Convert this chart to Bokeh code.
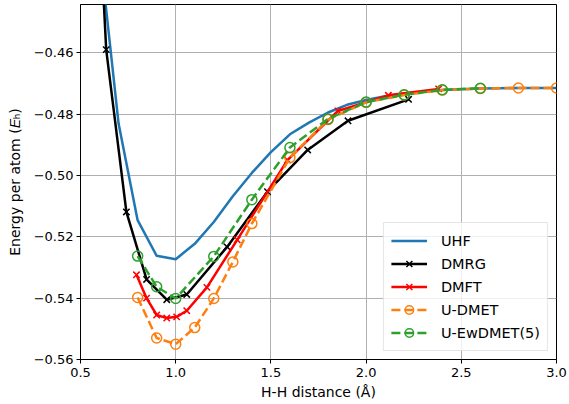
from bokeh.plotting import figure
from bokeh.models import Range1d, FixedTicker, CustomJSTickFormatter
from bokeh.embed import file_html
from bokeh.resources import INLINE

# ---- data (distance in Angstrom, energy per atom in Hartree) ----
uhf_x = [0.6, 0.7, 0.8, 0.9, 1.0, 1.1, 1.2, 1.3, 1.4, 1.5, 1.6, 1.7, 1.8, 1.9,
         2.0, 2.1, 2.2, 2.3, 2.4, 2.5, 2.6, 2.7, 2.8, 2.9, 3.0]
uhf_y = [-0.426, -0.4831, -0.5146, -0.5262, -0.5273, -0.5223, -0.5152, -0.5068,
         -0.4992, -0.4924, -0.4866, -0.4828, -0.4795, -0.4770, -0.4754, -0.4742,
         -0.4733, -0.4727, -0.4722, -0.4719, -0.4717, -0.4716, -0.4715, -0.4715,
         -0.4715]

dmrg_x = [0.529, 0.635, 0.741, 0.847, 0.953, 1.058, 1.270, 1.482, 1.693, 1.905, 2.223]
dmrg_y = [-0.33, -0.459, -0.5119, -0.5339, -0.5405, -0.5388, -0.5233, -0.5053,
          -0.4917, -0.4822, -0.4752]

dmft_x = [0.794, 0.847, 0.900, 0.953, 1.005, 1.058, 1.164, 1.323, 1.587, 1.852, 2.117, 2.381]
dmft_y = [-0.5324, -0.5400, -0.5455, -0.5465, -0.5461, -0.5441, -0.5365, -0.5210,
          -0.4950, -0.4790, -0.4739, -0.4718]

udmet_x = [0.8, 0.9, 1.0, 1.1, 1.2, 1.3, 1.4, 1.6, 1.8, 2.0, 2.2, 2.4, 2.6, 2.8, 3.0]
udmet_y = [-0.5398, -0.5530, -0.5550, -0.5496, -0.5401, -0.5282, -0.5157, -0.4942,
           -0.4818, -0.4762, -0.4738, -0.4722, -0.4717, -0.4715, -0.4715]

ew_x = [0.8, 0.9, 1.0, 1.2, 1.4, 1.6, 1.8, 2.0, 2.2, 2.4, 2.6]
ew_y = [-0.5263, -0.5363, -0.5401, -0.5264, -0.5079, -0.4909, -0.4816, -0.4761,
        -0.4737, -0.4721, -0.4716]

x_ticks = [0.5, 1.0, 1.5, 2.0, 2.5, 3.0]
y_ticks = [-0.56, -0.54, -0.52, -0.50, -0.48, -0.46]

FONT = "DejaVu Sans"

p = figure(frame_width=476, frame_height=355, output_backend="svg",
           toolbar_location=None,
           x_range=Range1d(0.5, 3.0), y_range=Range1d(-0.56, -0.4443),
           min_border_left=80, min_border_right=11, min_border_top=4,
           min_border_bottom=30)

p.background_fill_color = "white"
p.border_fill_color = "white"
p.outline_line_color = "black"
p.outline_line_width = 1
p.outline_line_alpha = 1

for g in (p.xgrid, p.ygrid):
    g.grid_line_color = "#b0b0b0"
    g.grid_line_width = 1

p.xaxis.ticker = FixedTicker(ticks=x_ticks)
p.yaxis.ticker = FixedTicker(ticks=y_ticks)
p.xaxis.formatter = CustomJSTickFormatter(code="return tick.toFixed(1);")
p.yaxis.formatter = CustomJSTickFormatter(
    code="return (tick < 0 ? '\u2212' : '') + Math.abs(tick).toFixed(2);")

for ax in (p.xaxis, p.yaxis):
    ax.major_tick_in = 0
    ax.major_tick_out = 4
    ax.minor_tick_in = 0
    ax.minor_tick_out = 0
    ax.axis_line_color = "black"
    ax.major_tick_line_color = "black"
    ax.major_label_text_font = FONT
    ax.major_label_text_font_size = "13px"
    ax.major_label_text_color = "black"
    ax.axis_label_text_font = FONT
    ax.axis_label_text_font_size = "14px"
    ax.axis_label_text_font_style = "normal"
    ax.axis_label_text_color = "black"

p.xaxis.axis_label = "H-H distance (\u00c5)"
p.yaxis.axis_label = "Energy per atom (\U0001D438\u2095)"
p.xaxis.axis_label_standoff = 4
p.yaxis.axis_label_standoff = 8
p.xaxis.major_label_standoff = 4
p.yaxis.major_label_standoff = 3

LW = 2.5

p.line(uhf_x, uhf_y, line_color="#1f77b4", line_width=LW, legend_label="UHF")

p.line(dmrg_x, dmrg_y, line_color="black", line_width=LW, legend_label="DMRG")
p.scatter(dmrg_x, dmrg_y, marker="x", size=9, line_color="black", line_width=1.5,
          legend_label="DMRG")

p.line(dmft_x, dmft_y, line_color="red", line_width=LW, legend_label="DMFT")
p.scatter(dmft_x, dmft_y, marker="x", size=9, line_color="red", line_width=1.5,
          legend_label="DMFT")

p.line(udmet_x, udmet_y, line_color="#ff7f0e", line_width=LW, line_dash="9 4",
       legend_label="U-DMET")
p.scatter(udmet_x, udmet_y, marker="circle", size=10, line_color="#ff7f0e",
          line_width=1.5, fill_alpha=0, legend_label="U-DMET")

p.line(ew_x, ew_y, line_color="#2ca02c", line_width=LW, line_dash="9 4",
       legend_label="U-EwDMET(5)")
p.scatter(ew_x, ew_y, marker="circle", size=10, line_color="#2ca02c",
          line_width=1.5, fill_alpha=0, legend_label="U-EwDMET(5)")

lg = p.legend[0]
lg.location = "bottom_right"
lg.margin = 8
lg.padding = 7
lg.spacing = 2
lg.label_text_font = FONT
lg.label_text_font_size = "14.5px"
lg.label_text_color = "black"
lg.label_height = 21
lg.glyph_height = 21
lg.glyph_width = 36
lg.label_standoff = 14
lg.border_line_color = "#cccccc"
lg.border_line_width = 1
lg.background_fill_alpha = 0.8

open("out.html", "w").write(file_html(p, INLINE))
